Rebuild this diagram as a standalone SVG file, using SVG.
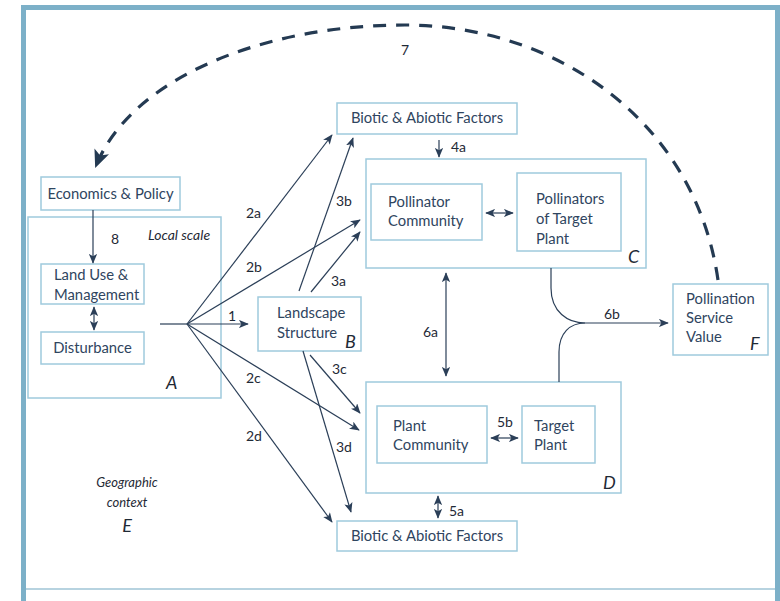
<svg xmlns="http://www.w3.org/2000/svg" width="780" height="601" viewBox="0 0 780 601">
<defs>
<style>
.box{fill:#fff;stroke:#9fcadd;stroke-width:1.5}
.t{font-family:Lato,"Open Sans",sans-serif;font-size:14.8px;fill:#2f4560}
.lb{font-family:Lato,"Open Sans",sans-serif;font-size:14px;fill:#1f2a36}
.it{font-family:Lato,"Open Sans",sans-serif;font-style:italic;fill:#1f2a36}
.ln{fill:none;stroke:#2b3f58;stroke-width:1.2}
.ar{marker-end:url(#ah)}
.dar{marker-end:url(#ah);marker-start:url(#ahs)}
</style>
<marker id="ah" viewBox="0 0 12 10" refX="11" refY="5" markerWidth="10" markerHeight="8.5" markerUnits="userSpaceOnUse" orient="auto">
<path d="M0,0 L12,5 L0,10 L3,5 z" fill="#2b3f58"/>
</marker>
<marker id="ahs" viewBox="0 0 12 10" refX="11" refY="5" markerWidth="10" markerHeight="8.5" markerUnits="userSpaceOnUse" orient="auto-start-reverse">
<path d="M0,0 L12,5 L0,10 L3,5 z" fill="#2b3f58"/>
</marker>
<marker id="bigah" viewBox="0 0 16 14" refX="14" refY="7" markerWidth="18" markerHeight="16" markerUnits="userSpaceOnUse" orient="auto">
<path d="M0,0 L16,7 L0,14 L4,7 z" fill="#243a52"/>
</marker>
</defs>
<rect x="0" y="0" width="780" height="601" fill="#fff"/>
<rect x="23.5" y="7.5" width="754" height="596" fill="none" stroke="#7cb0c8" stroke-width="5"/>
<line x1="26" y1="589" x2="775" y2="589" stroke="#9fc5d6" stroke-width="1.5"/>

<g id="nodeA">
<rect class="box" x="28" y="217" width="193" height="181"/>
<text class="it" x="148" y="240" font-size="14">Local scale</text>
<text class="it" x="166" y="389" font-size="18">A</text>
</g>
<g id="econ">
<rect class="box" x="41" y="177" width="139" height="33"/>
<text class="t" x="110.5" y="199" text-anchor="middle">Economics &amp; Policy</text>
</g>
<g id="landuse">
<rect class="box" x="41" y="264" width="103" height="40"/>
<text class="t" x="54" y="280">Land Use &amp;</text>
<text class="t" x="54" y="300">Management</text>
</g>
<g id="disturbance">
<rect class="box" x="41" y="332" width="103" height="32"/>
<text class="t" x="92.5" y="353" text-anchor="middle">Disturbance</text>
</g>
<g id="nodeB">
<rect class="box" x="258" y="297" width="103" height="54"/>
<text class="t" x="277" y="318">Landscape</text>
<text class="t" x="277" y="338">Structure</text>
<text class="it" x="345" y="348" font-size="18">B</text>
</g>
<g id="bioticTop">
<rect class="box" x="337" y="103" width="180" height="31"/>
<text class="t" x="427" y="123" text-anchor="middle">Biotic &amp; Abiotic Factors</text>
</g>
<g id="nodeC">
<rect class="box" x="366" y="159" width="280" height="109"/>
<text class="it" x="628" y="263" font-size="18">C</text>
</g>
<g id="pollComm">
<rect class="box" x="371" y="184" width="111" height="56"/>
<text class="t" x="388" y="207">Pollinator</text>
<text class="t" x="388" y="226">Community</text>
</g>
<g id="pollTarget">
<rect class="box" x="517" y="173" width="104" height="78"/>
<text class="t" x="536" y="204">Pollinators</text>
<text class="t" x="536" y="224">of Target</text>
<text class="t" x="536" y="244">Plant</text>
</g>
<g id="nodeD">
<rect class="box" x="366" y="382" width="255" height="111"/>
<text class="it" x="603" y="489" font-size="18">D</text>
</g>
<g id="plantComm">
<rect class="box" x="377" y="406" width="110" height="57"/>
<text class="t" x="393" y="431">Plant</text>
<text class="t" x="393" y="450">Community</text>
</g>
<g id="targetPlant">
<rect class="box" x="522" y="406" width="73" height="57"/>
<text class="t" x="534" y="431">Target</text>
<text class="t" x="534" y="450">Plant</text>
</g>
<g id="bioticBottom">
<rect class="box" x="337" y="521" width="180" height="30"/>
<text class="t" x="427" y="541" text-anchor="middle">Biotic &amp; Abiotic Factors</text>
</g>
<g id="nodeF">
<rect class="box" x="673" y="284" width="95" height="71"/>
<text class="t" x="686" y="304">Pollination</text>
<text class="t" x="686" y="323">Service</text>
<text class="t" x="686" y="342">Value</text>
<text class="it" x="750" y="350" font-size="18">F</text>
</g>
<g id="nodeE">
<text class="it" x="127" y="487" font-size="13" text-anchor="middle" fill="#3a4c60">Geographic</text>
<text class="it" x="127" y="507" font-size="13" text-anchor="middle" fill="#3a4c60">context</text>
<text class="it" x="127" y="532" font-size="18" text-anchor="middle">E</text>
</g>

<g id="connectors">
<path d="M718 280 C695 120 555 25 405 25 C260 25 130 80 96 166" fill="none" stroke="#243a52" stroke-width="3.2" stroke-dasharray="13 10" marker-end="url(#bigah)"/>
<text class="lb" x="405" y="55" text-anchor="middle">7</text>

<line class="ln ar" x1="93" y1="210" x2="93" y2="263"/>
<text class="lb" x="111" y="244">8</text>
<line class="ln dar" x1="94" y1="307" x2="94" y2="330"/>

<line class="ln" x1="160" y1="324" x2="187" y2="324"/>
<line class="ln ar" x1="187" y1="324" x2="248" y2="324"/>
<text class="lb" x="228" y="321">1</text>
<line class="ln ar" x1="187" y1="324" x2="332" y2="135"/>
<text class="lb" x="246" y="218">2a</text>
<line class="ln ar" x1="187" y1="324" x2="360" y2="220"/>
<text class="lb" x="246" y="272">2b</text>
<line class="ln ar" x1="187" y1="324" x2="359" y2="430"/>
<text class="lb" x="246" y="383">2c</text>
<line class="ln ar" x1="187" y1="324" x2="332" y2="522"/>
<text class="lb" x="246" y="441">2d</text>

<line class="ln ar" x1="299" y1="291" x2="353" y2="138"/>
<text class="lb" x="336" y="206">3b</text>
<line class="ln ar" x1="311" y1="292" x2="360" y2="232"/>
<text class="lb" x="331" y="286">3a</text>
<line class="ln ar" x1="310" y1="355" x2="360" y2="413"/>
<text class="lb" x="332" y="374">3c</text>
<line class="ln ar" x1="303" y1="351" x2="351" y2="512"/>
<text class="lb" x="336" y="452">3d</text>

<line class="ln ar" x1="439" y1="140" x2="439" y2="157"/>
<text class="lb" x="451" y="152">4a</text>
<line class="ln dar" x1="486" y1="213" x2="513" y2="213"/>

<line class="ln dar" x1="446" y1="273" x2="446" y2="376"/>
<text class="lb" x="423" y="337">6a</text>

<line class="ln dar" x1="491" y1="438" x2="518" y2="438"/>
<text class="lb" x="497" y="427">5b</text>
<line class="ln dar" x1="438" y1="496" x2="438" y2="518"/>
<text class="lb" x="449" y="516">5a</text>

<path class="ln" d="M551 268 L551 288 C551 312 568 323 585 323"/>
<path class="ln" d="M559 382 L559 352 C559 333 570 323 585 323"/>
<line class="ln ar" x1="585" y1="323" x2="668" y2="323"/>
<text class="lb" x="604" y="319">6b</text>
</g>
</svg>
